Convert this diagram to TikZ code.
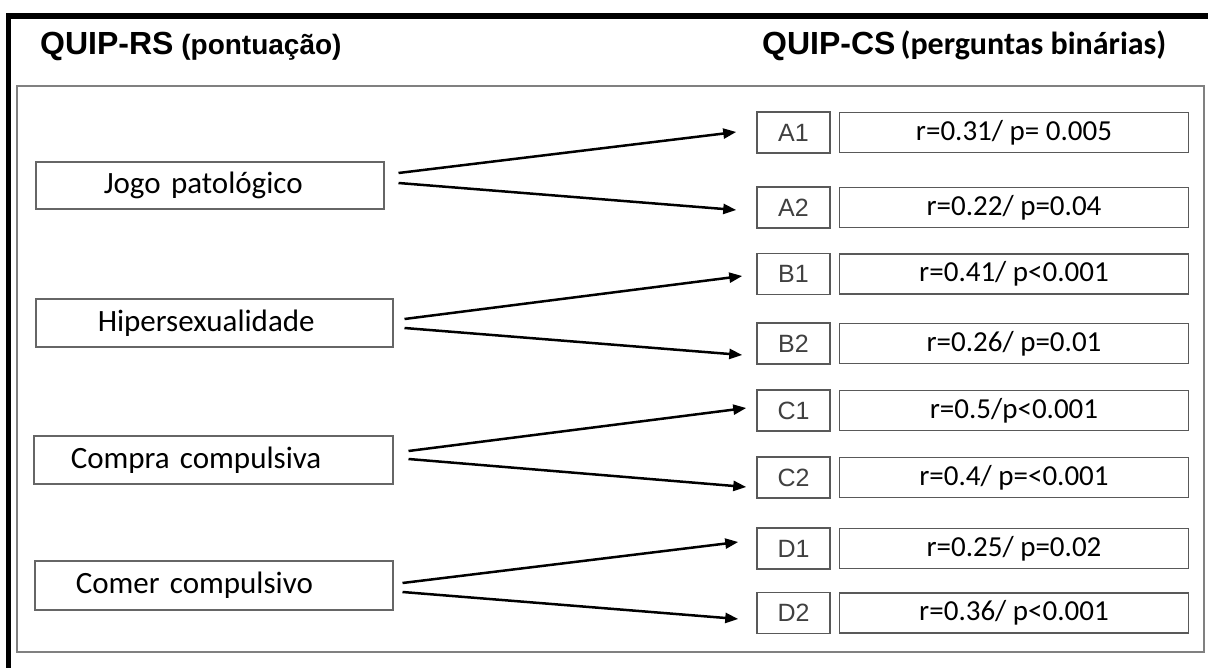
\documentclass[tikz,border=0pt]{standalone}
\usepackage{fontspec}
\setmainfont{Carlito}
\newfontfamily\arialfont{Liberation Sans}
\usetikzlibrary{arrows.meta, positioning}
\tikzset{
	cond/.style={
		rectangle,
		draw=black!60,
		line width=1.5pt,
		minimum height=47pt,
		inner ysep=0pt,
		align=left,
		font=\fontsize{31}{36}\selectfont
	},
	qitem/.style={
		rectangle,
		draw=black!65,
		line width=1.5pt,
		minimum width=73pt,
		minimum height=41pt,
		inner sep=0pt,
		text=black!75,
		font=\arialfont\fontsize{25}{28}\selectfont
	},
	score/.style={
		rectangle,
		draw=black!65,
		line width=1.5pt,
		minimum width=349pt,
		minimum height=40pt,
		inner sep=0pt,
		font=\fontsize{29}{34}\selectfont
	},
	arrow/.style={
		-{Triangle[length=13pt,width=10pt]},
		line width=2.5pt
	}
}

\begin{document}
\begin{tikzpicture}[x=1pt, y=-1pt, node distance=8pt]
		\useasboundingbox (0,0) rectangle (1208,668);
		
		% frames
		\draw [line width=5.5pt, line join=miter] (1215,15.8) -- (8.6,15.8) -- (8.6,675);
		\draw [draw=black!50, line width=2pt] (17,86) rectangle (1204,652);
		
		% titles
		\node (rstitle) [anchor=base west, inner sep=0pt] at (40,55)
			{\arialfont\bfseries\fontsize{32}{36}\selectfont QUIP-RS\fontsize{28}{32}\selectfont\ (pontuação)};
		\node (cstitle) [anchor=base west, inner sep=0pt] at (762,55)
			{\arialfont\bfseries\fontsize{32}{36}\selectfont QUIP-CS\hspace{5pt}\normalfont\bfseries\fontsize{32}{36}\selectfont(perguntas binárias)};
		
		% conditions
		\node (jogo)   [cond, anchor=west, inner xsep=68pt, text width=212pt] at (35,185.5) {Jogo patológico};
		\node (hiper)  [cond, anchor=west, inner xsep=62pt, text width=233pt, minimum height=48pt] at (35,323) {Hipersexualidade};
		\node (compra) [cond, anchor=west, inner xsep=37pt, text width=285pt, minimum height=48pt] at (33,460) {Compra compulsiva};
		\node (comer)  [cond, anchor=west, inner xsep=41pt, text width=276pt, minimum height=49pt] at (34,585.5) {Comer compulsivo};
		
		% questions
		\node (a1) [qitem] at (793.5,132.5) {A1};
		\node (a2) [qitem] at (793.5,207.5) {A2};
		\node (b1) [qitem] at (793.5,274)   {B1};
		\node (b2) [qitem] at (793.5,343.5) {B2};
		\node (c1) [qitem] at (793.5,410.5) {C1};
		\node (c2) [qitem] at (793.5,477.5) {C2};
		\node (d1) [qitem] at (793.5,548.5) {D1};
		\node (d2) [qitem] at (793.5,613)   {D2};
		
		% correlations
		\node (a1val) [score, right=of a1] {r=0.31/ p= 0.005};
		\node (a2val) [score, right=of a2] {r=0.22/ p=0.04};
		\node (b1val) [score, right=of b1] {r=0.41/ p<0.001};
		\node (b2val) [score, right=of b2] {r=0.26/ p=0.01};
		\node (c1val) [score, right=of c1] {r=0.5/p<0.001};
		\node (c2val) [score, right=of c2] {r=0.4/ p=<0.001};
		\node (d1val) [score, right=of d1] {r=0.25/ p=0.02};
		\node (d2val) [score, right=of d2] {r=0.36/ p<0.001};
		
		% links
		\draw [arrow] ([xshift=14pt, yshift=12.5pt]jogo.east) -- ([xshift=-20pt, yshift=0.5pt]a1.west);
		\draw [arrow] ([xshift=14pt, yshift=2.5pt]jogo.east)  -- ([xshift=-20pt, yshift=-2.5pt]a2.west);
		\draw [arrow] ([xshift=11pt, yshift=4pt]hiper.east)   -- ([xshift=-14pt, yshift=-2pt]b1.west);
		\draw [arrow] ([xshift=11pt, yshift=-5pt]hiper.east)  -- ([xshift=-14pt, yshift=-11.5pt]b2.west);
		\draw [arrow] ([xshift=15pt, yshift=9pt]compra.east)  -- ([xshift=-10pt, yshift=2.5pt]c1.west);
		\draw [arrow] ([xshift=15pt, yshift=1pt]compra.east)  -- ([xshift=-10pt, yshift=-9.5pt]c2.west);
		\draw [arrow] ([xshift=9pt, yshift=2.5pt]comer.east)  -- ([xshift=-18pt, yshift=6.5pt]d1.west);
		\draw [arrow] ([xshift=9pt, yshift=-6.5pt]comer.east) -- ([xshift=-18pt, yshift=-6pt]d2.west);
		
	\end{tikzpicture}
\end{document}
